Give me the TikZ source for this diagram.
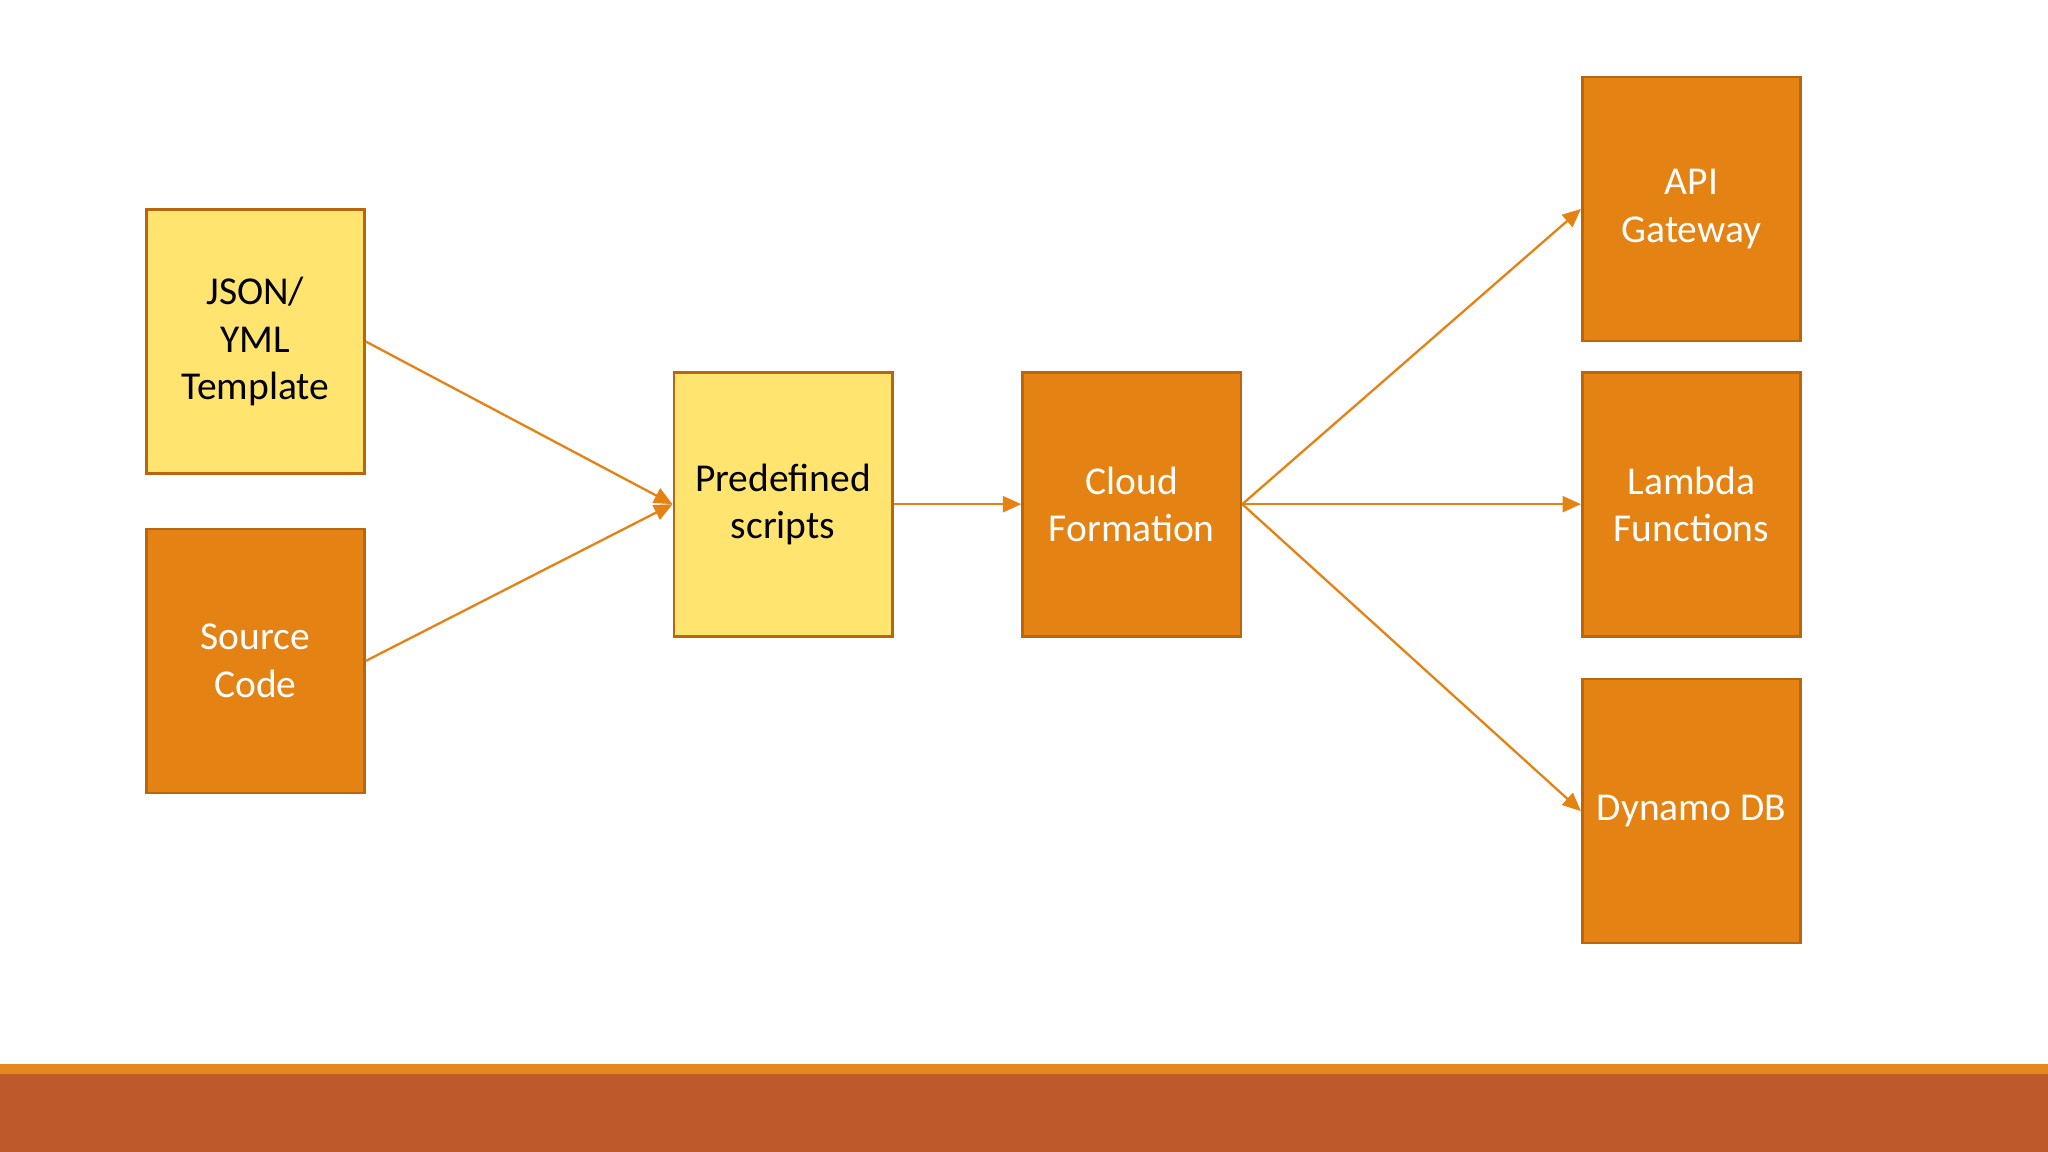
\documentclass[tikz,border=0pt]{standalone}
\usepackage{fontspec}
\setmainfont{Carlito}
\usetikzlibrary{arrows.meta}
\definecolor{yel}{HTML}{FFE470}
\definecolor{ora}{HTML}{E58214}
\definecolor{bord}{HTML}{B9660F}
\definecolor{band}{HTML}{BE592B}
\definecolor{bandtop}{HTML}{E48A1C}
\begin{document}
\begin{tikzpicture}[x=0.01cm,y=-0.01cm,
  box/.style={draw=bord,line width=0.6pt,minimum width=1.67cm,minimum height=2.02cm,inner sep=0pt,align=center,font=\fontsize{8.6}{10.3}\selectfont},
  ybox/.style={box,fill=yel,text=black},
  obox/.style={box,fill=ora,text=white},
  conn/.style={draw=ora,line width=0.5pt,-{Triangle[length=4pt,width=3.5pt]}}]
\useasboundingbox (0,0) rectangle (1568,882);
\fill[white] (0,0) rectangle (1568,882);
\fill[bandtop] (0,815) rectangle (1568,822);
\fill[band] (0,822) rectangle (1568,882);
\node[ybox] (json) at (195.5,261.5) {JSON/\\YML\\Template};
\node[obox] (src) at (195.5,506) {Source\\Code};
\node[ybox] (pre) at (599.5,386) {Predefined\\scripts};
\node[obox] (cf) at (866.5,386) {Cloud\\Formation};
\node[obox] (api) at (1295,160) {API\\Gateway};
\node[obox] (lam) at (1295,386) {Lambda\\Functions};
\node[obox] (dyn) at (1295,621) {Dynamo DB};
\draw[conn] (json.east) -- (pre.west);
\draw[conn] (src.east) -- (pre.west);
\draw[conn] (pre.east) -- (cf.west);
\draw[conn] (cf.east) -- (api.west);
\draw[conn] (cf.east) -- (lam.west);
\draw[conn] (cf.east) -- (dyn.west);
\end{tikzpicture}
\end{document}
